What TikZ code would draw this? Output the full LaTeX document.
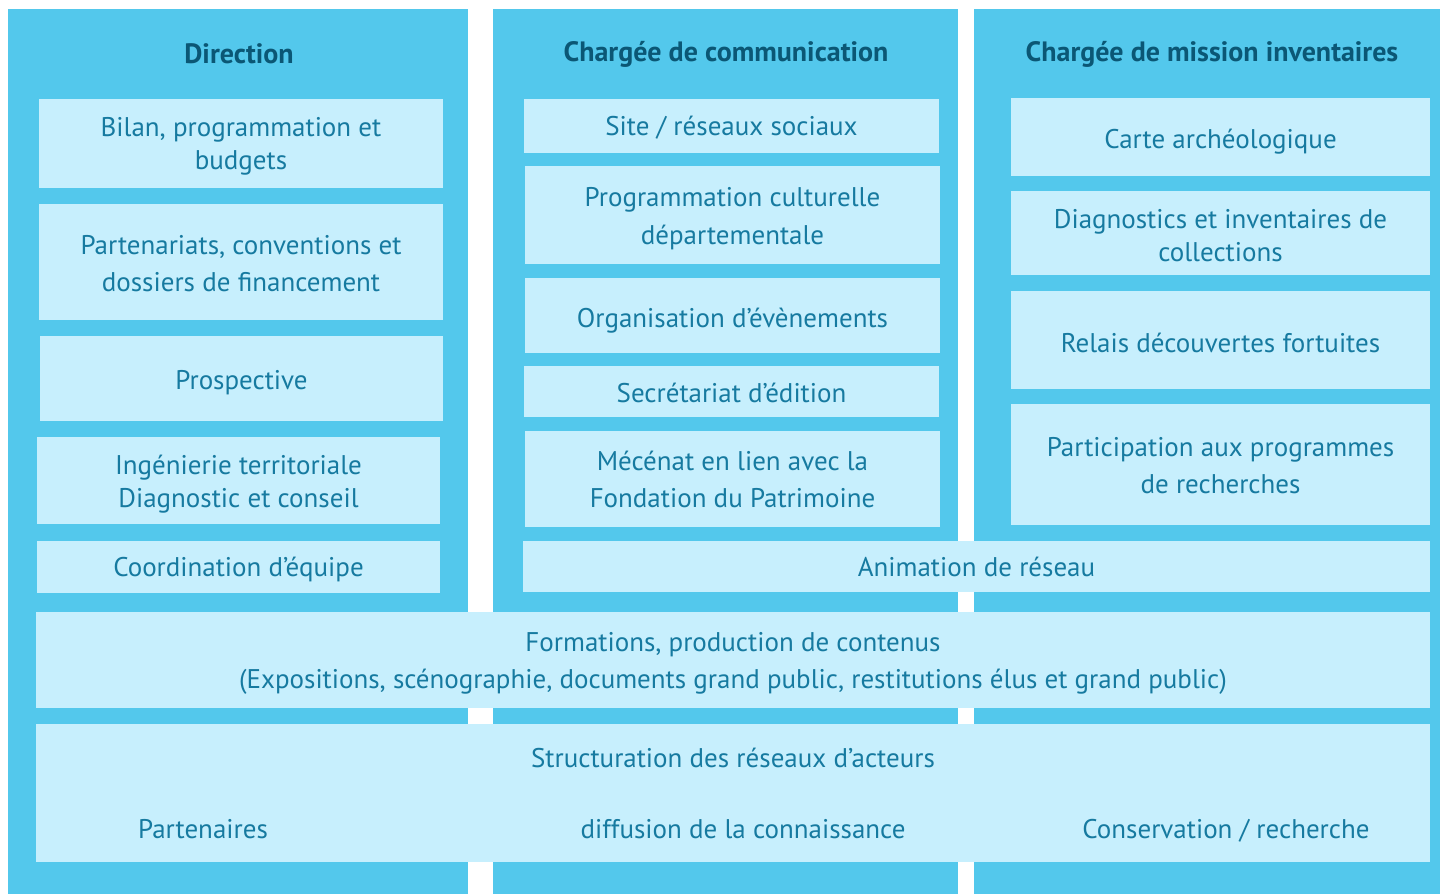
\documentclass[tikz,border=0pt]{standalone}
\usepackage{fontspec}
\setmainfont{PT Sans}
\definecolor{outer}{HTML}{53C8EC}
\definecolor{inner}{HTML}{C7EFFD}
\definecolor{txt}{HTML}{167AA0}
\definecolor{head}{HTML}{0B5775}
\tikzset{
  colbox/.style={fill=outer, draw=none, inner sep=0pt},
  itembox/.style={fill=inner, draw=none, inner sep=0pt},
  itemtxt/.style={text=txt, inner sep=0pt, align=center,
    font=\fontsize{27}{33}\selectfont},
  headtxt/.style={text=head, inner sep=0pt, font=\bfseries\fontsize{28}{30}\selectfont},
  plaintxt/.style={text=txt, inner sep=0pt, font=\fontsize{27}{33}\selectfont},
}
\newcommand{\cbox}[5]{%
  \node[colbox, minimum width={(#4-#2)*1pt}, minimum height={(#5-#3)*1pt}]
    (#1) at ({(#2+#4)/2},{(#3+#5)/2}) {};}
\newcommand{\rbox}[7]{%
  \node[itembox, minimum width={(#4-#2)*1pt}, minimum height={(#5-#3)*1pt}]
    (#1) at ({(#2+#4)/2},{(#3+#5)/2}) {};
  \node[itemtxt] (#1-t) at ({(#2+#4)/2},{(#3+#5)/2+#6}) {#7};}
\begin{document}
\begin{tikzpicture}[x=1pt,y=-1pt]
\useasboundingbox (0,0) rectangle (1440,894);
% columns
\cbox{c1}{8}{9}{468}{894}
\cbox{c2}{493}{9}{958}{894}
\cbox{c3}{974}{9}{1440}{894}
\node[headtxt] (h1) at (239,54) {Direction};
\node[headtxt] (h2) at (726,54) {Chargée de communication};
\node[headtxt] (h3) at (1212,54) {Chargée de mission inventaires};
% column 1
\rbox{a1}{39}{99}{443}{188}{3}{Bilan, programmation et\\budgets}
\rbox{a2}{39}{204}{443}{320}{2}{Partenariats, conventions et\\[4pt]dossiers de financement}
\rbox{a3}{40}{336}{443}{421}{4}{Prospective}
\rbox{a4}{37}{437}{440}{524}{4}{Ingénierie territoriale\\Diagnostic et conseil}
\rbox{a5}{37}{541}{440}{593}{2}{Coordination d’équipe}
% column 2
\rbox{b1}{524}{99}{939}{153}{2}{Site / réseaux sociaux}
\rbox{b2}{525}{166}{940}{264}{4}{Programmation culturelle\\[5pt]départementale}
\rbox{b3}{525}{278}{940}{353}{5}{Organisation d’évènements}
\rbox{b4}{524}{366}{939}{417}{1}{Secrétariat d’édition}
\rbox{b5}{525}{431}{940}{527}{0}{Mécénat en lien avec la\\[4pt]Fondation du Patrimoine}
% column 3
\rbox{d1}{1011}{98}{1430}{176}{5}{Carte archéologique}
\rbox{d2}{1011}{191}{1430}{275}{3}{Diagnostics et inventaires de\\collections}
\rbox{d3}{1011}{291}{1430}{389}{3}{Relais découvertes fortuites}
\rbox{d4}{1011}{404}{1430}{525}{1}{Participation aux programmes\\[4pt]de recherches}
% spanning
\rbox{anim}{523}{541}{1430}{592}{0}{Animation de réseau}
\rbox{form}{36}{612}{1430}{708}{3}{Formations, production de contenus\\[4pt](Expositions, scénographie, documents grand public, restitutions élus et grand public)}
\node[itembox, minimum width=1394pt, minimum height=138pt] (struct) at (733,793) {};
\node[plaintxt] (s0) at (733,758) {Structuration des réseaux d’acteurs};
\node[plaintxt, anchor=base] (s1) at (203,838) {Partenaires};
\node[plaintxt, anchor=base] (s2) at (743,838) {diffusion de la connaissance};
\node[plaintxt, anchor=base] (s3) at (1226,838) {Conservation / recherche};
\end{tikzpicture}
\end{document}
